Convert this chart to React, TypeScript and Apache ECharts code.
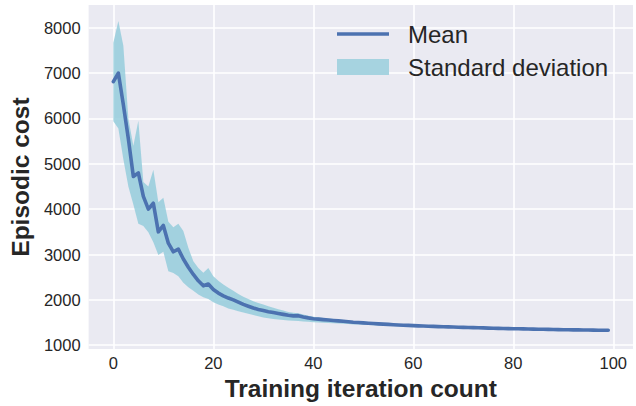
import React, { useEffect, useRef } from "react";
import * as echarts from "echarts";

const xTicks = [0, 20, 40, 60, 80, 100];
const yTicks = [1000, 2000, 3000, 4000, 5000, 6000, 7000, 8000];

const meanCost = [
  6810, 7000, 6300, 5550, 4720, 4800, 4280, 4000, 4130, 3500,
  3640, 3250, 3060, 3120, 2900, 2720, 2560, 2420, 2310, 2350,
  2230, 2150, 2090, 2040, 2000, 1950, 1900, 1860, 1820, 1790,
  1765, 1740, 1720, 1700, 1680, 1662, 1648, 1652, 1625, 1603,
  1585, 1575, 1565, 1555, 1545, 1537, 1528, 1518, 1508, 1502,
  1493, 1486, 1479, 1472, 1466, 1459, 1453, 1447, 1442, 1437,
  1432, 1428, 1424, 1419, 1415, 1411, 1408, 1404, 1401, 1398,
  1394, 1391, 1388, 1385, 1382, 1378, 1375, 1372, 1369, 1367,
  1364, 1362, 1360, 1357, 1355, 1353, 1351, 1349, 1347, 1345,
  1343, 1341, 1339, 1338, 1336, 1335, 1333, 1332, 1331, 1330,
];

const upperCost = [
  7670, 8150, 7600, 6000, 5400, 5950, 4600, 4500, 4870, 4150,
  4250, 3720, 3600, 3680, 3520, 3150, 2850, 2700, 2600, 2700,
  2520, 2420, 2340, 2270, 2200, 2130, 2070, 2020, 1970, 1930,
  1900, 1860, 1825, 1795, 1765, 1735, 1715, 1705, 1675, 1650,
  1630, 1615, 1603, 1590, 1578, 1568, 1557, 1546, 1535, 1528,
  1518, 1510, 1502, 1494, 1487, 1479, 1472, 1466, 1460, 1454,
  1449, 1444, 1440, 1435, 1430, 1426, 1422, 1418, 1415, 1411,
  1407, 1404, 1400, 1397, 1394, 1390, 1387, 1384, 1380, 1378,
  1375, 1373, 1370, 1367, 1365, 1363, 1361, 1358, 1356, 1354,
  1352, 1350, 1348, 1346, 1344, 1343, 1341, 1340, 1339, 1338,
];

const lowerCost = [
  5940, 5780, 5100, 4500, 4100, 3680, 3630, 3490, 3270, 2990,
  3060, 2630, 2590, 2520, 2380, 2280, 2200, 2120, 2060, 2020,
  1950, 1900, 1860, 1810, 1780, 1750, 1720, 1695, 1665, 1640,
  1610, 1595, 1580, 1568, 1558, 1548, 1542, 1532, 1524, 1516,
  1508, 1502, 1496, 1490, 1484, 1478, 1472, 1466, 1460, 1456,
  1450, 1445, 1440, 1435, 1431, 1426, 1422, 1418, 1415, 1412,
  1408, 1405, 1402, 1399, 1396, 1393, 1390, 1387, 1385, 1382,
  1379, 1376, 1374, 1371, 1368, 1365, 1362, 1359, 1357, 1355,
  1352, 1350, 1348, 1346, 1344, 1342, 1340, 1338, 1337, 1335,
  1333, 1331, 1330, 1329, 1327, 1326, 1325, 1323, 1322, 1321,
];

const FONT = "'Liberation Sans', Arial, Helvetica, sans-serif";
const LINE_COLOR = "#4C72B0";
const BAND_FILL = "rgba(149,205,220,0.85)";
const BAND_SWATCH = "#A6D3E0";
const TEXT_COLOR = "#262626";

export default function App() {
  const ref = useRef<HTMLDivElement>(null);

  useEffect(() => {
    if (!ref.current) return;
    const chart = echarts.init(ref.current, undefined, { renderer: "svg" });

    const meanData = meanCost.map((v, i) => [i, v]);

    chart.setOption({
      animation: false,
      textStyle: { fontFamily: FONT },
      grid: {
        left: 88,
        right: 3,
        top: 5,
        bottom: 50,
        show: true,
        backgroundColor: "#EAEAF2",
        borderWidth: 0,
        containLabel: false,
      },
      legend: {
        left: 332,
        top: 17,
        orient: "vertical",
        itemWidth: 52,
        itemHeight: 16,
        itemGap: 9,
        textStyle: {
          fontFamily: FONT,
          fontSize: 24,
          color: TEXT_COLOR,
          lineHeight: 24,
          padding: [0, 0, 0, 14],
        },
        data: [
          { name: "Mean", icon: "path://M0,0 L52,0 L52,3.5 L0,3.5 Z", itemStyle: { color: LINE_COLOR } },
          { name: "Standard deviation", icon: "rect", itemStyle: { color: BAND_SWATCH } },
        ],
      },
      xAxis: {
        type: "value",
        min: -4.95,
        max: 103.95,
        name: "Training iteration count",
        nameLocation: "middle",
        nameGap: 22,
        nameTextStyle: { fontFamily: FONT, fontSize: 24.5, fontWeight: "bold", color: TEXT_COLOR },
        axisLine: { show: false },
        axisTick: { show: false, customValues: xTicks },
        axisLabel: { customValues: xTicks, fontFamily: FONT, fontSize: 16.5, color: TEXT_COLOR, margin: 5 },
        splitLine: { show: true, lineStyle: { color: "#FFFFFF", width: 1.6 } },
      },
      yAxis: {
        type: "value",
        min: 915,
        max: 8500,
        name: "Episodic cost",
        nameLocation: "middle",
        nameGap: 54,
        nameTextStyle: { fontFamily: FONT, fontSize: 24.5, fontWeight: "bold", color: TEXT_COLOR },
        axisLine: { show: false },
        axisTick: { show: false, customValues: yTicks },
        axisLabel: {
          customValues: yTicks,
          formatter: (v: number) => String(v),
          fontFamily: FONT,
          fontSize: 16.5,
          color: TEXT_COLOR,
          margin: 8,
        },
        splitLine: { show: true, lineStyle: { color: "#FFFFFF", width: 1.6 } },
      },
      series: [
        {
          name: "Standard deviation",
          type: "custom",
          data: [[0, lowerCost[0]]],
          encode: { x: 0, y: 1 },
          itemStyle: { color: BAND_SWATCH },
          silent: true,
          z: 2,
          renderItem: (_params: any, api: any) => {
            const pts: number[][] = [];
            for (let i = 0; i < upperCost.length; i++) pts.push(api.coord([i, upperCost[i]]));
            for (let i = lowerCost.length - 1; i >= 0; i--) pts.push(api.coord([i, lowerCost[i]]));
            return {
              type: "polygon",
              shape: { points: pts },
              style: { fill: BAND_FILL, stroke: "none" },
            };
          },
        },
        {
          name: "Mean",
          type: "line",
          data: meanData,
          symbol: "none",
          itemStyle: { color: LINE_COLOR },
          lineStyle: { color: LINE_COLOR, width: 3.6, join: "round", cap: "round" },
          z: 5,
        },
      ],
    });

    return () => chart.dispose();
  }, []);

  return <div ref={ref} style={{ width: 636, height: 406, position: "absolute", left: 0, top: 0 }} />;
}
